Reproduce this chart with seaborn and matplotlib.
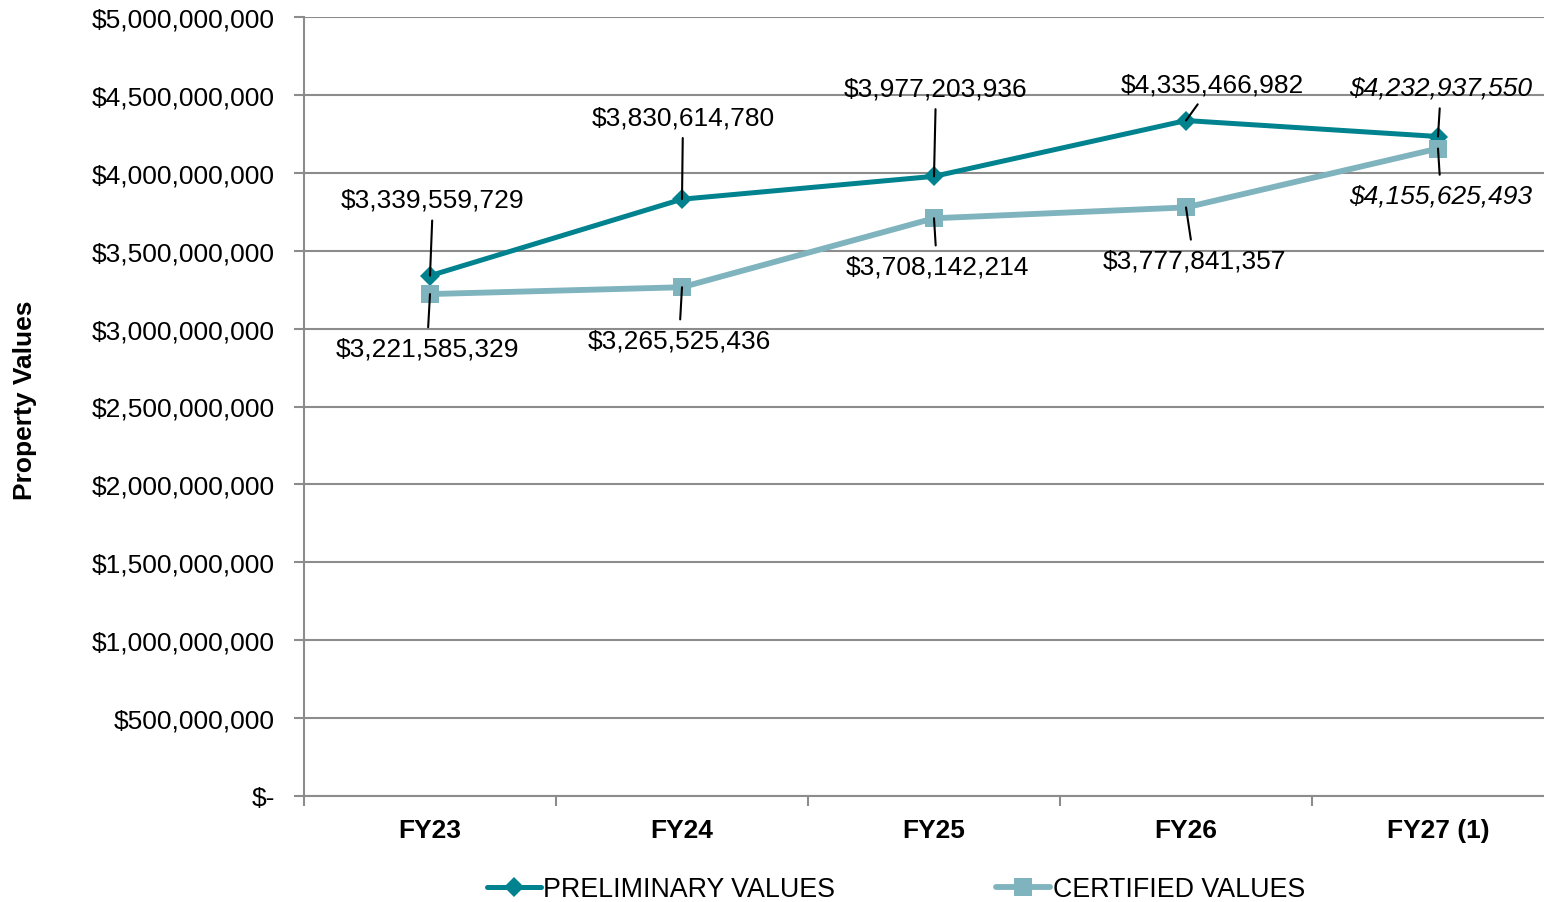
import pandas as pd
import numpy as np
import matplotlib
matplotlib.use('Agg')
import matplotlib.pyplot as plt
import seaborn as sns
from matplotlib.ticker import FuncFormatter, FixedLocator

years = ['FY23', 'FY24', 'FY25', 'FY26', 'FY27 (1)']
preliminary = [3339559729, 3830614780, 3977203936, 4335466982, 4232937550]
certified = [3221585329, 3265525436, 3708142214, 3777841357, 4155625493]
y_ticks = [0, 500000000, 1000000000, 1500000000, 2000000000, 2500000000,
           3000000000, 3500000000, 4000000000, 4500000000, 5000000000]

# label offsets (pixels) from each point
prelim_offsets = [(3, 76), (1, 82), (2, 88), (26, 36), (3, 49)]
cert_offsets = [(-3, -54), (-3, -53), (3, -48), (8, -53), (3, -47)]

dark = '#00838F'
light = '#7FB3BD'
grid_col = '#8C8C8C'

sns.set_theme(style='white')
plt.rcParams['font.family'] = ['Liberation Sans', 'DejaVu Sans']
plt.rcParams['text.color'] = 'black'
plt.rcParams['xtick.color'] = 'black'
plt.rcParams['ytick.color'] = 'black'

df = pd.DataFrame({'year': years * 2,
                   'value': preliminary + certified,
                   'series': ['PRELIMINARY VALUES'] * 5 + ['CERTIFIED VALUES'] * 5})
df['pos'] = list(range(5)) * 2

W, H = 1544, 903
fig = plt.figure(figsize=(W / 100, H / 100), dpi=100)
ax = fig.add_axes([304 / W, (H - 797) / H, 1260 / W, 779 / H])

sns.lineplot(data=df[df.series == 'PRELIMINARY VALUES'], x='pos', y='value',
             color=dark, lw=3.6, marker='D', markersize=10, markeredgewidth=0,
             label='PRELIMINARY VALUES', ax=ax, zorder=3)
sns.lineplot(data=df[df.series == 'CERTIFIED VALUES'], x='pos', y='value',
             color=light, lw=4.2, marker='s', markersize=13, markeredgewidth=0,
             label='CERTIFIED VALUES', ax=ax, zorder=3)

ax.set_xlim(-0.5, 4.5)
ax.set_ylim(0, 5e9)
ax.yaxis.set_major_locator(FixedLocator(y_ticks))
ax.yaxis.set_major_formatter(FuncFormatter(
    lambda v, p: '$-' if v == 0 else '${:,.0f}'.format(v)))
ax.set_xticks(range(5))
ax.set_xticklabels(years, fontweight='bold', fontsize=19)
ax.set_xticks(np.arange(-0.5, 4.0, 1.0), minor=True)
ax.tick_params(axis='x', which='major', length=0, pad=16, labelcolor='black')
ax.tick_params(axis='x', which='minor', length=7, width=1.5, color=grid_col,
               direction='out', bottom=True)
ax.tick_params(axis='y', length=7, width=1.5, color=grid_col, direction='out',
               left=True, pad=14, labelsize=19, labelcolor='black')

ax.grid(axis='y', color=grid_col, lw=1.5)
ax.set_axisbelow(True)
for s in ['top', 'right']:
    ax.spines[s].set_visible(False)
for s in ['left', 'bottom']:
    ax.spines[s].set_color(grid_col)
    ax.spines[s].set_linewidth(1.5)

ax.set_xlabel('')
ax.set_ylabel('')
fig.text(25 / W, 1 - 400 / H, 'Property Values', rotation=90, fontweight='bold',
         fontsize=19, ha='center', va='center')

for i, (v, off) in enumerate(zip(preliminary, prelim_offsets)):
    style = 'italic' if i == 4 else 'normal'
    ax.annotate('${:,.0f}'.format(v), xy=(i, v), xytext=off, textcoords='offset pixels',
                ha='center', va='center', fontsize=19, fontstyle=style,
                arrowprops=dict(arrowstyle='-', color='black', lw=1.5, shrinkA=4, shrinkB=0))
for i, (v, off) in enumerate(zip(certified, cert_offsets)):
    style = 'italic' if i == 4 else 'normal'
    ax.annotate('${:,.0f}'.format(v), xy=(i, v), xytext=off, textcoords='offset pixels',
                ha='center', va='center', fontsize=19, fontstyle=style,
                arrowprops=dict(arrowstyle='-', color='black', lw=1.5, shrinkA=4, shrinkB=0))

handles, labels = ax.get_legend_handles_labels()
ax.get_legend().remove()
fig.legend(handles, labels, loc='center', bbox_to_anchor=(896 / W, 1 - 890 / H),
           ncol=2, frameon=False, fontsize=19.3, handlelength=2.0, handletextpad=0.1,
           columnspacing=6.0)

fig.savefig('out.png', dpi=100)
